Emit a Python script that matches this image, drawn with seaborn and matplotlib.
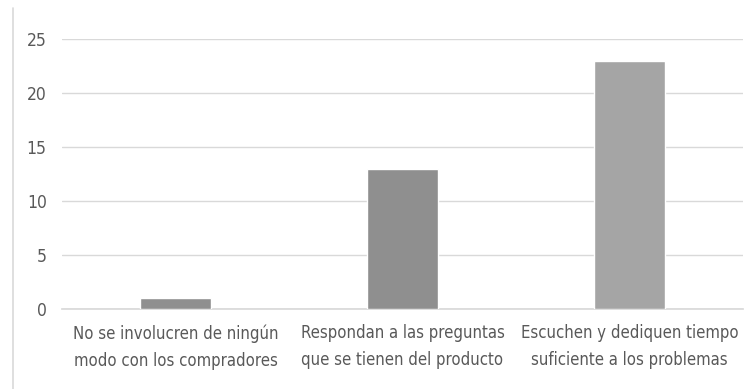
import matplotlib
matplotlib.use("Agg")
import matplotlib.pyplot as plt
import seaborn as sns
import pandas as pd
from matplotlib.lines import Line2D

categories = [
    "No se involucren de ningún\nmodo con los compradores",
    "Respondan a las preguntas\nque se tienen del producto",
    "Escuchen y dediquen tiempo\nsuficiente a los problemas",
]
values = [1, 13, 23]
bar_colors = ["#8f8f8f", "#8f8f8f", "#a5a5a5"]
y_ticks = [0, 5, 10, 15, 20, 25]

sns.set_theme(style="white")
plt.rcParams["font.family"] = ["DejaVu Sans"]
plt.rcParams["font.stretch"] = "condensed"

df = pd.DataFrame({"cat": categories, "val": values})

fig = plt.figure(figsize=(7.53, 3.89), dpi=100)
ax = fig.add_axes([62 / 753, 1 - 309 / 389, 681 / 753, 270 / 389])

sns.barplot(data=df, x="cat", y="val", hue="cat", palette=bar_colors,
            width=0.31, legend=False, ax=ax, saturation=1, zorder=3)

ax.set_ylim(0, 25)
ax.set_xlim(-0.5, 2.5)
ax.set_yticks(y_ticks)
ax.yaxis.grid(True, color="#d9d9d9", linewidth=1)
ax.set_axisbelow(True)
for s in ["top", "right", "left"]:
    ax.spines[s].set_visible(False)
ax.spines["bottom"].set_color("#d9d9d9")
ax.set_xlabel("")
ax.set_ylabel("")
ax.tick_params(axis="both", length=0, colors="#595959")
ax.tick_params(axis="y", pad=11, labelsize=12.5)
ax.tick_params(axis="x", pad=11, labelsize=12)
for lbl in ax.get_yticklabels():
    lbl.set_horizontalalignment("right")
for lbl in ax.get_xticklabels():
    lbl.set_linespacing(1.65)

# thin frame line at the left edge
fig.add_artist(Line2D([13 / 753, 13 / 753], [0, 1 - 8 / 389],
                      transform=fig.transFigure, color="#d9d9d9", linewidth=1.2))

fig.savefig("out.png", dpi=100, facecolor="white")
